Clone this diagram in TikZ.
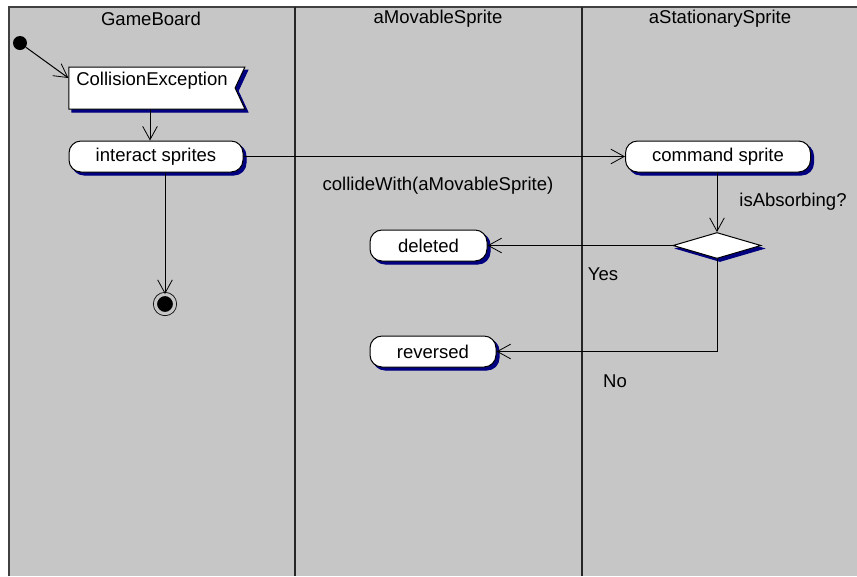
\documentclass[tikz,border=0pt]{standalone}
\usepackage{fontspec}
\setmainfont{Liberation Sans}
\usetikzlibrary{shapes.geometric,shapes.symbols,shadows,arrows.meta}

\definecolor{lanegray}{HTML}{C6C6C6}
\definecolor{shadownavy}{HTML}{000080}

\tikzset{
  flow/.style={draw, line width=0.75pt, -{Straight Barb[length=10pt,width=11pt,line width=0.6pt]}},
  navyshadow/.style={copy shadow={fill=shadownavy, draw=shadownavy, shadow xshift=2.25pt, shadow yshift=-2.25pt}},
  activity/.style={draw, fill=white, line width=0.75pt, rectangle, rounded corners=9pt, minimum height=23.25pt, inner sep=0pt, navyshadow},
  signalbox/.style={draw, fill=white, line width=0.75pt, signal, signal to=nowhere, signal from=east, signal pointer angle=130,
    minimum width=132pt, minimum height=31.5pt, inner xsep=4pt, inner ysep=0pt, text height=13.5pt, text depth=18pt, navyshadow},
  decisionbox/.style={draw, fill=white, line width=0.75pt, diamond, minimum width=66pt, minimum height=19.5pt, inner sep=0pt, navyshadow},
  startdot/.style={circle, fill=black, minimum size=10.5pt, inner sep=0pt},
  finalstate/.style={circle, draw, fill=black, line width=0.6pt, minimum size=14.4pt, inner sep=0pt, double=lanegray, double distance=2.4pt},
  lanetitle/.style={inner sep=0pt}
}

\begin{document}
\begin{tikzpicture}[x=0.75pt,y=0.75pt,yscale=-1,xscale=1,font=\fontsize{13.9pt}{16pt}\selectfont]
	\useasboundingbox (0,0) rectangle (857,576);
	
	% swimlanes
	\fill[lanegray] (9,7) rectangle (857,576);
	\draw[line width=1.2pt, black!75] (9,576) -- (9,7) -- (857,7);
	\draw[line width=1.2pt, black!85] (295,7) -- (295,576);
	\draw[line width=1.2pt, black!85] (582,7) -- (582,576);
	
	% Text Node
	\node[lanetitle] (tboard) at (151,19) {GameBoard};
	% Text Node
	\node[lanetitle] (tmovable) at (438,19) {aMovableSprite};
	% Text Node
	\node[lanetitle] (tstationary) at (720,19) {aStationarySprite};
	
	% states
	\node[startdot] (start) at (20,43) {};
	\node[signalbox] (collision) at (152,88) {CollisionException};
	\node[activity, minimum width=130.5pt] (interact) at (156,156.5) {interact sprites};
	\node[activity, minimum width=138.75pt] (command) at (718,156.5) {command sprite};
	\node[decisionbox] (decision) at (717,245.5) {};
	\node[activity, minimum width=87.75pt] (deleted) at (428.5,245.5) {deleted};
	\node[activity, minimum width=94.5pt] (reversed) at (433,351.5) {reversed};
	\node[finalstate] (final) at (165,304) {};
	
	% transitions
	\draw[flow] (start) -- ([shift={(0,-10)}]collision.west);
	\draw[flow] (collision.south -| 150,0) -- (interact.north -| 150,0);
	\draw[flow] (interact) -- (command);
	\draw[flow] (command.south -| decision) -- (decision);
	\draw[flow] (decision) -- (deleted);
	\draw[flow] (decision) |- (reversed);
	\draw[flow] (interact.south -| final) -- (final);
	
	% Text Node
	\node[lanetitle] (lcollide) at (438,186) {collideWith(aMovableSprite)};
	% Text Node
	\node[lanetitle] (labsorb) at (793,202) {isAbsorbing?};
	% Text Node
	\node[lanetitle] (lyes) at (603,274) {Yes};
	% Text Node
	\node[lanetitle] (lno) at (615,381) {No};
	
\end{tikzpicture}
\end{document}
